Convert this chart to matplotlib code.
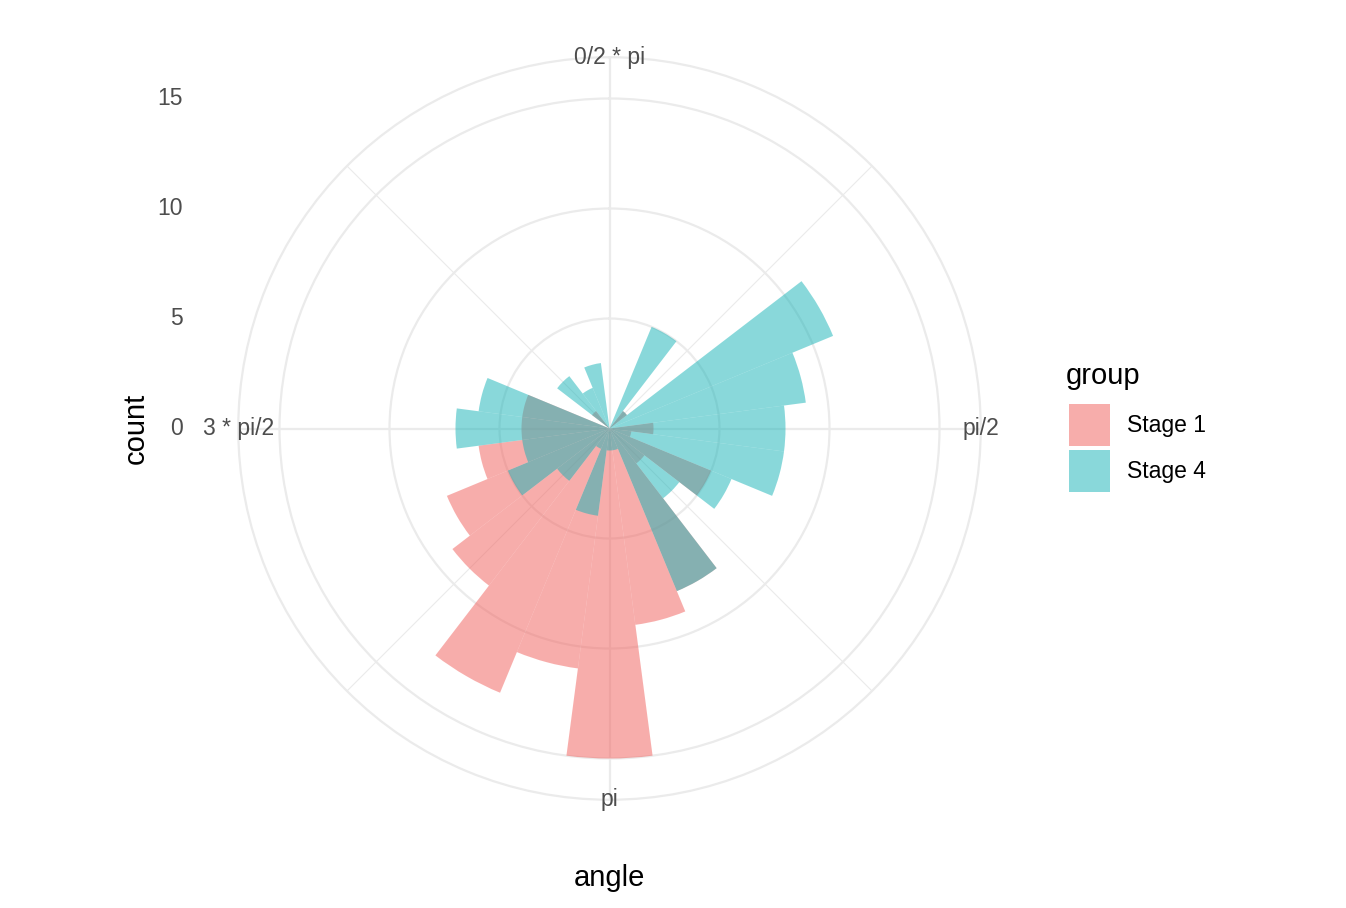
import numpy as np
import matplotlib
matplotlib.use("Agg")
import matplotlib.pyplot as plt
from matplotlib.patches import Patch

plt.rcParams['font.family'] = ['Liberation Sans', 'DejaVu Sans']

# histogram bins (centres, degrees clockwise from north) and counts
bin_deg = [0, 15, 30, 45, 60, 75, 90, 105, 120, 135, 150, 165,
           180, 195, 210, 225, 240, 255, 270, 285, 300, 315, 330, 345]
stage1 = [0, 0, 0, 1, 0, 0, 2, 1, 5, 2, 8, 9,
          15, 11, 13, 9, 8, 6, 4, 4, 0, 1, 0, 0]
stage4 = [0, 0, 5, 1, 11, 9, 8, 8, 6, 4, 8, 1,
          1, 4, 1, 3, 5, 4, 7, 6, 0, 3, 2, 3]
bin_width_deg = 15

groups = ["Stage 1", "Stage 4"]
theta_breaks = [0, 90, 180, 270]
theta_labels = ["0/2 * pi", "pi/2", "pi", "3 * pi/2"]
theta_minor = [45, 135, 225, 315]
r_breaks = [0, 5, 10, 15]

pink = "#F15D59"
teal = "#15B3B7"
grid_col = "#EBEBEB"
text_col = "#4D4D4D"

W, H = 1346, 908
fig = plt.figure(figsize=(W / 100, H / 100), dpi=100)

cx, cy, R = 609.5, 428.5, 371.25
ax = fig.add_axes([(cx - R) / W, (H - cy - R) / H, 2 * R / W, 2 * R / H],
                  projection="polar")
ax.set_theta_zero_location("N")
ax.set_theta_direction(-1)
rmax = 15 * 0.45 / 0.4
ax.set_ylim(0, rmax)

theta = np.deg2rad(bin_deg)
width = np.deg2rad(bin_width_deg)
ax.bar(theta, stage1, width=width, color=pink, alpha=0.5, linewidth=0, zorder=2)
ax.bar(theta, stage4, width=width, color=teal, alpha=0.5, linewidth=0, zorder=3)

# grid like theme_minimal
ax.set_axisbelow(True)
ax.set_xticks(np.deg2rad(theta_breaks))
ax.set_xticks(np.deg2rad(theta_minor), minor=True)
ax.set_xticklabels([])
ax.set_yticks(r_breaks[1:])
ax.set_yticklabels([])
ax.tick_params(which="both", length=0)
ax.xaxis.grid(True, which="major", color=grid_col, linewidth=1.6)
ax.xaxis.grid(True, which="minor", color=grid_col, linewidth=0.8)
ax.yaxis.grid(True, which="major", color=grid_col, linewidth=1.6)
ax.spines["polar"].set_color(grid_col)
ax.spines["polar"].set_linewidth(1.6)

for a, lab in zip(theta_breaks, theta_labels):
    ax.text(np.deg2rad(a), rmax, lab, ha="center", va="center",
            fontsize=16.5, color=text_col)

# radial axis labels on the left, placed from the polar scale
fig.canvas.draw()
for r in r_breaks:
    _, py = ax.transData.transform((0, r))
    fig.text(182.5 / W, py / H, str(r), ha="right", va="center",
             fontsize=16.5, color=text_col)

fig.text(136 / W, 1 - 428 / H, "count", rotation=90, ha="center", va="center",
         fontsize=21)
fig.text(609 / W, 1 - 878 / H, "angle", ha="center", va="center", fontsize=21)

# legend: title placed separately so the keys sit lower, as in ggplot
fig.text(1066 / W, 1 - 376 / H, "group", ha="left", va="center", fontsize=21)
handles = [Patch(facecolor=pink, alpha=0.5, linewidth=0),
           Patch(facecolor=teal, alpha=0.5, linewidth=0)]
fig.legend(handles, groups, loc="upper left",
           bbox_to_anchor=(1069 / W, 1 - 404 / H), frameon=False,
           fontsize=16.5, handlelength=1.8, handleheight=2.44,
           labelspacing=0.17, handletextpad=0.72, borderpad=0, borderaxespad=0)

fig.savefig("out.png", dpi=100)
